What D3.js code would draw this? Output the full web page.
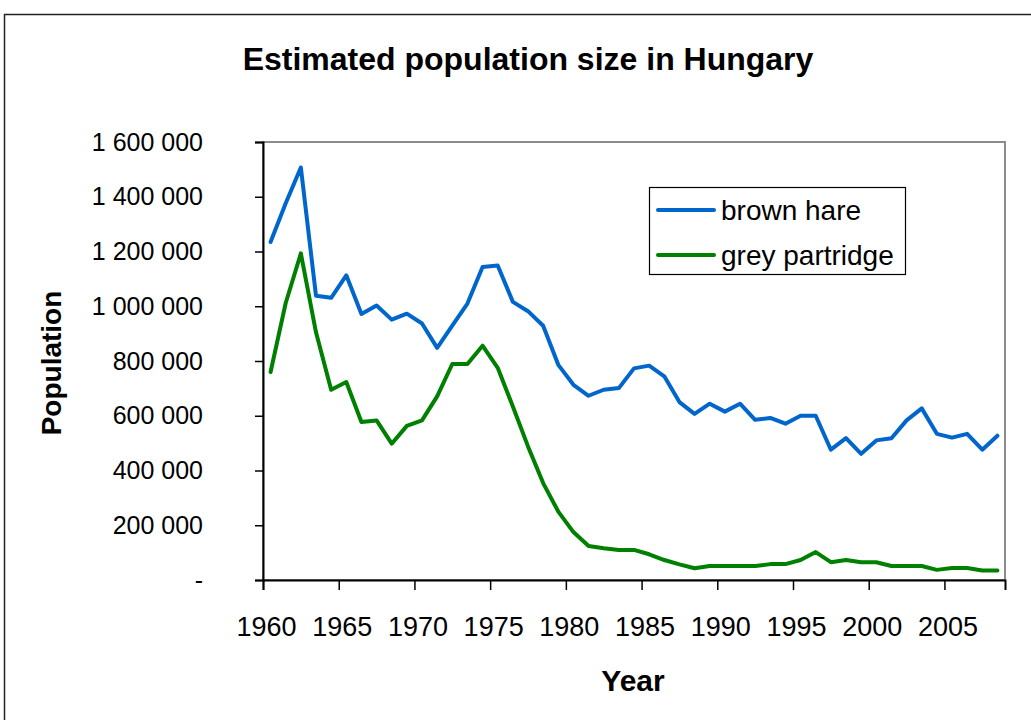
<!DOCTYPE html>
<html><head><meta charset="utf-8">
<script src="https://cdn.jsdelivr.net/npm/d3@7"></script>
<style>
body{margin:0;background:#fff;}
svg{display:block;}
text{font-family:"Liberation Sans",Arial,sans-serif;fill:#000;}
</style>
</head><body>
<svg id="c" width="1031" height="720"></svg>
<script>
const years = [1960,1961,1962,1963,1964,1965,1966,1967,1968,1969,1970,1971,1972,1973,1974,1975,1976,1977,1978,1979,1980,1981,1982,1983,1984,1985,1986,1987,1988,1989,1990,1991,1992,1993,1994,1995,1996,1997,1998,1999,2000,2001,2002,2003,2004,2005,2006,2007,2008];
const brownHare = [1235000,1376000,1507000,1038000,1031000,1113000,972000,1003000,951000,973000,937000,848000,929000,1010000,1143000,1149000,1016000,982000,929000,786000,713000,673000,695000,701000,773000,783000,744000,650000,607000,644000,615000,644000,585000,592000,571000,600000,600000,476000,518000,461000,510000,518000,583000,627000,534000,520000,534000,476000,527000];
const greyPartridge = [760000,1012000,1193000,905000,695000,723000,577000,583000,498000,563000,583000,671000,789000,789000,856000,775000,634000,488000,354000,250000,175000,124000,116000,110000,110000,94000,73000,57000,43000,51000,51000,51000,51000,58000,58000,73000,102000,65000,73000,65000,65000,51000,51000,51000,37000,44000,44000,35000,35000];
const seriesNames = ["brown hare","grey partridge"];
const seriesColors = ["#0066cc","#008000"];
const yTicks = [0,200000,400000,600000,800000,1000000,1200000,1400000,1600000];
const xTickYears = [1960,1965,1970,1975,1980,1985,1990,1995,2000,2005];

const svg = d3.select("#c");
const L = 263, R = 1005, T = 142, B = 580;

// outer chart border
svg.append("rect").attr("x",4.5).attr("y",14.5).attr("width",1100).attr("height",800)
  .attr("fill","#fff").attr("stroke","#222").attr("stroke-width",1.5);

const x = d3.scaleLinear().domain([years[0], years[years.length-1]+1]).range([L, R]);
const y = d3.scaleLinear().domain([0, 1600000]).range([B, T]);

// plot frame (top/right gray)
svg.append("rect").attr("x",L).attr("y",T).attr("width",R-L).attr("height",B-T)
  .attr("fill","none").attr("stroke","#8c8c8c").attr("stroke-width",2);

// title
svg.append("text").attr("x",528).attr("y",70).attr("text-anchor","middle")
  .attr("font-size",32).attr("font-weight","bold").text("Estimated population size in Hungary");

// y axis
const fmt = v => v === 0 ? "-" : d3.format(",")(v).replace(/,/g, " ");
const gy = svg.append("g").attr("transform",`translate(${L},0)`)
  .call(d3.axisLeft(y).tickValues(yTicks).tickSize(8).tickPadding(52).tickFormat(fmt));
gy.select(".domain").attr("stroke","#000").attr("stroke-width",2);
gy.selectAll(".tick line").attr("stroke","#000").attr("stroke-width",1.5);
gy.selectAll(".tick text").attr("font-size",25).attr("font-family","Liberation Sans, Arial, sans-serif").attr("fill","#000");

// x axis
const gx = svg.append("g").attr("transform",`translate(0,${B})`)
  .call(d3.axisBottom(x).tickValues(xTickYears).tickSize(10).tickFormat(d3.format("d")));
gx.select(".domain").attr("stroke","#000").attr("stroke-width",2);
gx.selectAll(".tick line").attr("stroke","#000").attr("stroke-width",1.5);
gx.selectAll(".tick text").attr("font-size",27).attr("font-family","Liberation Sans, Arial, sans-serif")
  .attr("fill","#000").attr("dy",0).attr("dx",3).attr("y",56);

// axis titles
svg.append("text").attr("x",633).attr("y",691).attr("text-anchor","middle")
  .attr("font-size",30).attr("font-weight","bold").text("Year");
svg.append("text").attr("transform","translate(61,363) rotate(-90)").attr("text-anchor","middle")
  .attr("font-size",28).attr("font-weight","bold").text("Population");

// lines
const line = d3.line().x((d,i)=>x(years[i]+0.5)).y(d=>y(d));
[brownHare, greyPartridge].forEach((s,k)=>{
  svg.append("path").datum(s).attr("d",line).attr("fill","none")
    .attr("stroke",seriesColors[k]).attr("stroke-width",4).attr("stroke-linejoin","round").attr("stroke-linecap","round");
});

// legend
const lg = svg.append("g");
lg.append("rect").attr("x",649.5).attr("y",187.5).attr("width",256).attr("height",87)
  .attr("fill","#fff").attr("stroke","#000").attr("stroke-width",1.2);
seriesNames.forEach((n,k)=>{
  const yy = 210 + k*45;
  lg.append("line").attr("x1",658).attr("x2",714).attr("y1",yy).attr("y2",yy)
    .attr("stroke",seriesColors[k]).attr("stroke-width",4).attr("stroke-linecap","round");
  lg.append("text").attr("x",721).attr("y",yy+10).attr("font-size",28).text(n);
});
</script>
</body></html>
